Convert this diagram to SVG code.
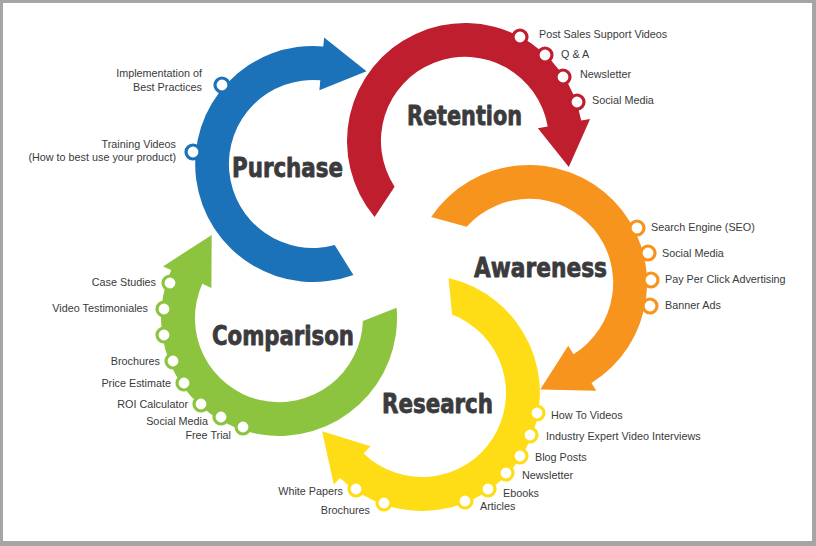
<svg xmlns="http://www.w3.org/2000/svg" width="816" height="546" viewBox="0 0 816 546">
<style>
.title{font-family:"Liberation Sans Narrow","DejaVu Sans Condensed","Liberation Sans",sans-serif;font-weight:700;font-size:27px;fill:#3b3b3d;stroke:#3b3b3d;stroke-width:0.8;stroke-linejoin:round;text-anchor:middle}
.lbl{font-family:"Liberation Sans","Open Sans",sans-serif;font-size:10.8px;fill:#3a3a3c}
.end{text-anchor:end}
.dot{fill:#ffffff;stroke-width:3.2}
.blue{fill:#1c72b8}
.red{fill:#be1e2d}
.orange{fill:#f7941e}
.green{fill:#8cc43f}
.yellow{fill:#fedc16}
</style>
<rect x="0" y="0" width="816" height="546" fill="#a5a5a5"/>
<rect x="3" y="3" width="809" height="538" fill="#ffffff"/>

<g id="connectors">
<path id="arrow-awareness" class="orange" d="M431.2,217 A118,118 0 1 1 591.5,383.1 L596.3,390.7 L540.2,389.4 L568.2,345.8 L573.5,354.2 A84,84 0 1 0 466.6,226.8 Z"/>
<path id="arrow-retention" class="red" d="M374.6,216.9 A118,118 0 1 1 581.2,120.5 L590.1,119 L568.8,166.9 L537.9,128.2 L547.7,126.4 A84,84 0 1 0 394.6,186.7 Z"/>
<path id="arrow-research" class="yellow" d="M448.5,278 A118,118 0 1 1 340,477.9 L333.8,484.4 L322.1,431.3 L370.6,446.2 L363.6,453.4 A84,84 0 1 0 452.1,314.6 Z"/>
<path id="arrow-comparison" class="green" d="M396.6,307.7 A118,118 0 1 1 171.2,270 L163,266.4 L211.7,234.9 L211.4,287.9 L202.3,283.8 A84,84 0 1 0 362.9,320.9 Z"/>
<path id="arrow-purchase" class="blue" d="M353.4,274.9 A118,118 0 1 1 323.3,46.4 L324.1,37.5 L366.5,71.3 L319.4,90.3 L320.3,80.3 A84,84 0 1 0 334.7,245.1 Z"/>
</g>

<g id="purchase">
<text class="title" x="287.5" y="177" textLength="111" lengthAdjust="spacingAndGlyphs">Purchase</text>
<circle class="dot" cx="222" cy="85" r="7" stroke="#1c72b8"/>
<circle class="dot" cx="193" cy="152" r="7" stroke="#1c72b8"/>
<text class="lbl end" x="202" y="77">Implementation of</text>
<text class="lbl end" x="202" y="91">Best Practices</text>
<text class="lbl end" x="176" y="148">Training Videos</text>
<text class="lbl end" x="176" y="161">(How to best use your product)</text>
</g>

<g id="retention">
<text class="title" x="464.5" y="125" textLength="115" lengthAdjust="spacingAndGlyphs">Retention</text>
<circle class="dot" cx="520" cy="37" r="7" stroke="#be1e2d"/>
<circle class="dot" cx="545" cy="55" r="7" stroke="#be1e2d"/>
<circle class="dot" cx="563" cy="77" r="7" stroke="#be1e2d"/>
<circle class="dot" cx="577" cy="102" r="7" stroke="#be1e2d"/>
<text class="lbl" x="539" y="38">Post Sales Support Videos</text>
<text class="lbl" x="561" y="58">Q &amp; A</text>
<text class="lbl" x="580" y="78">Newsletter</text>
<text class="lbl" x="592" y="104">Social Media</text>
</g>

<g id="awareness">
<text class="title" x="540.5" y="277" textLength="133" lengthAdjust="spacingAndGlyphs">Awareness</text>
<circle class="dot" cx="637" cy="228" r="7" stroke="#f7941e"/>
<circle class="dot" cx="648" cy="253" r="7" stroke="#f7941e"/>
<circle class="dot" cx="651" cy="280" r="7" stroke="#f7941e"/>
<circle class="dot" cx="650" cy="306" r="7" stroke="#f7941e"/>
<text class="lbl" x="651" y="231">Search Engine (SEO)</text>
<text class="lbl" x="662" y="257">Social Media</text>
<text class="lbl" x="665" y="283">Pay Per Click Advertising</text>
<text class="lbl" x="665" y="309">Banner Ads</text>
</g>

<g id="research">
<text class="title" x="437.5" y="413" textLength="111" lengthAdjust="spacingAndGlyphs">Research</text>
<circle class="dot" cx="537" cy="413" r="7" stroke="#fedc16"/>
<circle class="dot" cx="530" cy="435" r="7" stroke="#fedc16"/>
<circle class="dot" cx="520" cy="456" r="7" stroke="#fedc16"/>
<circle class="dot" cx="506" cy="473" r="7" stroke="#fedc16"/>
<circle class="dot" cx="488" cy="489" r="7" stroke="#fedc16"/>
<circle class="dot" cx="465" cy="501" r="7" stroke="#fedc16"/>
<circle class="dot" cx="356" cy="489" r="7" stroke="#fedc16"/>
<circle class="dot" cx="384" cy="503" r="7" stroke="#fedc16"/>
<text class="lbl" x="551" y="419">How To Videos</text>
<text class="lbl" x="546" y="440">Industry Expert Video Interviews</text>
<text class="lbl" x="535" y="461">Blog Posts</text>
<text class="lbl" x="522" y="479">Newsletter</text>
<text class="lbl" x="503" y="497">Ebooks</text>
<text class="lbl" x="480" y="510">Articles</text>
<text class="lbl end" x="343" y="495">White Papers</text>
<text class="lbl end" x="370" y="514">Brochures</text>
</g>

<g id="comparison">
<text class="title" x="283" y="345" textLength="142" lengthAdjust="spacingAndGlyphs">Comparison</text>
<circle class="dot" cx="170" cy="283" r="7" stroke="#8cc43f"/>
<circle class="dot" cx="164" cy="309" r="7" stroke="#8cc43f"/>
<circle class="dot" cx="164" cy="335" r="7" stroke="#8cc43f"/>
<circle class="dot" cx="173" cy="361" r="7" stroke="#8cc43f"/>
<circle class="dot" cx="184" cy="383" r="7" stroke="#8cc43f"/>
<circle class="dot" cx="201" cy="404" r="7" stroke="#8cc43f"/>
<circle class="dot" cx="221" cy="417" r="7" stroke="#8cc43f"/>
<circle class="dot" cx="243" cy="427" r="7" stroke="#8cc43f"/>
<text class="lbl end" x="156" y="286">Case Studies</text>
<text class="lbl end" x="148" y="312">Video Testimoniales</text>
<text class="lbl end" x="160" y="365">Brochures</text>
<text class="lbl end" x="171" y="387">Price Estimate</text>
<text class="lbl end" x="188" y="408">ROI Calculator</text>
<text class="lbl end" x="208" y="425">Social Media</text>
<text class="lbl end" x="231" y="439">Free Trial</text>
</g>
</svg>
